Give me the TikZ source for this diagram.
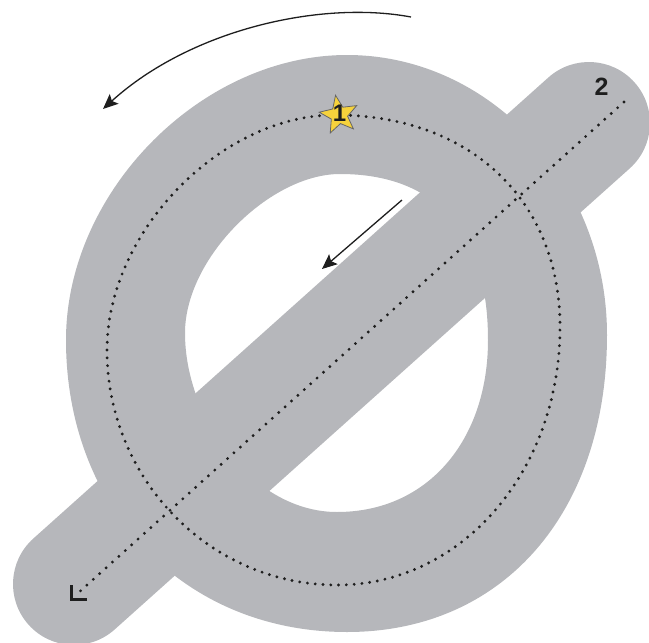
\documentclass[tikz,border=0pt]{standalone}
\usepackage{fontspec}
\setmainfont{Liberation Sans}
\usetikzlibrary{shapes.geometric,arrows.meta}
\definecolor{ringgray}{RGB}{182,183,187}
\definecolor{inkcol}{RGB}{30,30,30}
\definecolor{staryellow}{RGB}{246,210,60}
\tikzset{
  dotline/.style={inkcol,line width=3.2pt,line cap=round,dash pattern=on 0pt off 7.8pt},
  diagdots/.style={inkcol,line width=3.2pt,line cap=round,dash pattern=on 0pt off 8.6pt},
  arrowline/.style={inkcol,line width=1.3pt,-{Stealth[length=15pt,width=13pt,inset=3pt]}},
  startstar/.style={star,star points=5,star point ratio=2.3,minimum size=40pt,inner sep=0pt,fill=staryellow,draw=black!60,line width=0.8pt},
  numlabel/.style={font=\fontsize{24}{24}\selectfont,text=inkcol,inner sep=0pt}
}
\begin{document}
\begin{tikzpicture}[x=1pt,y=-1pt]
\useasboundingbox (0,0) rectangle (649,643);
% ring of the letter (outer contour and hole)
\fill[ringgray,even odd rule]
  (347,55) .. controls (490,55) and (607,181) .. (607,335)
  .. controls (607,513) and (503,632) .. (347,632)
  .. controls (184,632) and (66,509) .. (66,340)
  .. controls (66,192) and (201,55) .. (347,55) -- cycle
  (340,174) .. controls (436,174) and (488,232) .. (488,340)
  .. controls (488,440) and (428,512) .. (337,512)
  .. controls (254,512) and (185,420) .. (185,333)
  .. controls (185,258) and (270,174) .. (340,174) -- cycle;
% diagonal bar
\coordinate (barA) at (589,123);
\coordinate (barB) at (74,584);
\draw[ringgray,line width=122pt,line cap=round] (barA) -- (barB);
% dotted guide of the ring
\coordinate (eT) at (335,115);
\coordinate (eR) at (560,327);
\coordinate (eB) at (337,585);
\coordinate (eL) at (107,350);
\draw[dotline] (eT) .. controls (470,115) and (560,200) .. (eR)
  .. controls (560,471) and (462,585) .. (eB)
  .. controls (210,585) and (107,479) .. (eL)
  .. controls (107,232) and (221,115) .. (eT);
% dotted guide of the bar
\coordinate (d2) at (624,102);
\coordinate (d1) at (77,594);
\draw[diagdots] (d2) -- (d1);
\coordinate (cornerTop) at (71.5,585);
\coordinate (corner) at (71.5,599.5);
\coordinate (cornerRight) at (86.5,599.5);
\draw[inkcol,line width=2.3pt] (cornerTop) -- (corner) -- (cornerRight);
% direction arrows
\coordinate (a1s) at (411,17);
\coordinate (a1e) at (103,109);
\draw[arrowline] (a1s) .. controls (320,0) and (190,30) .. (a1e);
\coordinate (a2s) at (402,200);
\coordinate (a2e) at (322,269);
\draw[arrowline] (a2s) -- (a2e);
% start marks
\node[startstar,rotate=10] (star) at (339,115) {};
\node[numlabel,font=\fontsize{24}{24}\selectfont\bfseries] (one) at (339.5,113) {1};
\node[numlabel,font=\fontsize{25}{25}\selectfont\bfseries] (two) at (601.5,86.5) {2};
\end{tikzpicture}
\end{document}
